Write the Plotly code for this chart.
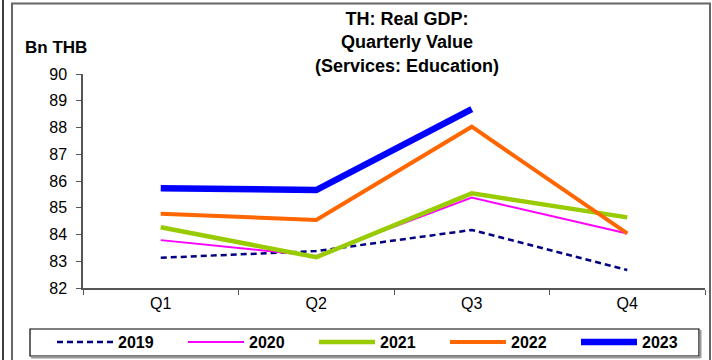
import plotly.graph_objects as go

quarters = ["Q1", "Q2", "Q3", "Q4"]
y2019 = [83.13, 83.38, 84.17, 82.67]
y2020 = [83.79, 83.20, 85.38, 84.04]
y2021 = [84.27, 83.15, 85.54, 84.64]
y2022 = [84.78, 84.54, 88.03, 84.04]
y2023 = [85.73, 85.66, 88.69, None]

series = [
    ("2019", y2019, "#000080", 2.5, "6px,4px"),
    ("2020", y2020, "#FF00FF", 2, "solid"),
    ("2021", y2021, "#99CC00", 4.5, "solid"),
    ("2022", y2022, "#FF6600", 4, "solid"),
    ("2023", y2023, "#0000FF", 6.5, "solid"),
]

fig = go.Figure()
for name, ys, color, w, dash in series:
    fig.add_trace(go.Scatter(x=quarters, y=ys, name=name, mode="lines",
                             line=dict(color=color, width=w, dash=dash)))

L, R, T, B = 83, 7, 74, 72
W, H = 712, 360
pw, ph = W - L - R, H - T - B

def px(x):
    return (x - L) / pw

def py(y):
    return (H - B - y) / ph

fig.update_layout(
    width=W, height=H,
    margin=dict(l=L, r=R, t=T, b=B, autoexpand=False),
    paper_bgcolor="white", plot_bgcolor="white",
    font=dict(family="Liberation Sans, Arial", color="black"),
    showlegend=True,
    legend=dict(orientation="h", x=px(52), y=py(325), xanchor="left", yanchor="top",
                font=dict(size=16, color="black", family="Liberation Sans, Arial", weight="bold"),
                entrywidth=60, entrywidthmode="pixels", itemwidth=56,
                bgcolor="rgba(0,0,0,0)", borderwidth=0),
    xaxis=dict(showgrid=False, showline=True, linecolor="#555", linewidth=1.5,
               ticks="outside", ticklen=5, tickcolor="#555", tickson="boundaries",
               tickfont=dict(size=16), range=[-0.5, 3.5]),
    yaxis=dict(range=[82, 90], dtick=1, showgrid=False, showline=True, linecolor="#555",
               linewidth=1.5, ticks="outside", ticklen=5, tickcolor="#555",
               tickfont=dict(size=16), ticklabelstandoff=6, zeroline=False),
    annotations=[
        dict(text="<b>TH: Real GDP:<br>Quarterly Value<br>(Services: Education)</b>",
             x=px(407), y=py(7), xref="paper", yref="paper", xanchor="center", yanchor="top",
             showarrow=False, font=dict(size=18, color="black")),
        dict(text="<b>Bn THB</b>", x=px(23), y=py(47), xref="paper", yref="paper",
             xanchor="left", yanchor="middle", showarrow=False, font=dict(size=17, color="black")),
    ],
    shapes=[
        dict(type="rect", xref="paper", yref="paper", x0=px(12), x1=px(710), y0=py(3.5), y1=py(370),
             line=dict(color="#666", width=2), layer="below"),
        dict(type="line", xref="paper", yref="paper", x0=px(3), x1=px(3), y0=py(0), y1=py(370),
             line=dict(color="black", width=1.5)),
        dict(type="rect", xref="paper", yref="paper", x0=px(30), x1=px(699), y0=py(329), y1=py(356),
             line=dict(color="black", width=1.2), layer="below"),
        dict(type="line", xref="paper", yref="paper", x0=px(31), x1=px(700), y0=py(357.5), y1=py(357.5),
             line=dict(color="#999", width=2), layer="below"),
        dict(type="line", xref="paper", yref="paper", x0=px(700.5), x1=px(700.5), y0=py(330), y1=py(358),
             line=dict(color="#999", width=2), layer="below"),
    ],
)

fig.write_html("out.html", config={"displayModeBar": False},
               post_script="document.body.style.margin='0';")
